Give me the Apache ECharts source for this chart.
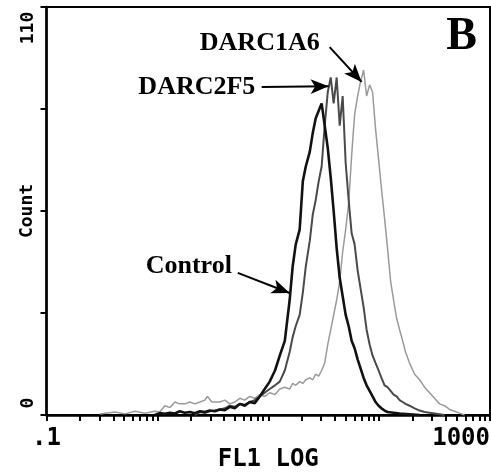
<!DOCTYPE html>
<html><head><meta charset="utf-8">
<script src="https://cdn.jsdelivr.net/npm/echarts@6/dist/echarts.min.js"></script>
<style>html,body{margin:0;padding:0;background:#fff}#c{width:491px;height:472px}</style>
</head><body><div id="c"></div>
<script>
// FL1 LOG channel value, count
const control = [[0.948,0],[1.05,0.5],[1.17,0.3],[1.30,0.6],[1.44,0.4],[1.59,1],[1.77,0.6],[1.96,0.8],[2.18,0.5],[2.42,1],[2.68,0.8],[2.97,1.2],[3.30,1],[3.66,1.5],[4.06,1.3],[4.50,2.2],[4.99,1.8],[5.54,3],[6.14,2.5],[6.81,3.5],[7.55,3.2],[8.38,5],[9.29,7],[10.3,9],[11.5,12],[12.7,16],[14.1,20],[15.6,31],[16.6,40],[17.7,46],[19.2,50],[20.5,63],[21.8,67],[23.7,71],[25.2,76],[26.8,80],[28.5,82],[30.3,84],[32.3,78],[34.4,72],[36.6,64],[38.9,55],[41.4,45],[44.1,37],[46.9,32],[49.9,27],[53.1,24],[56.5,20],[60.1,18],[64.0,15],[68.1,12.5],[72.5,10],[77.1,8],[82.1,6.5],[87.3,5],[92.9,3.5],[98.9,2.5],[105,1.8],[112,1.2],[119,0.8],[135,0.6],[153,0.4],[188,0.2],[232,0]];
const darc2f5 = [[2.18,0],[2.42,0.8],[2.68,0.5],[2.97,1],[3.30,1.2],[3.66,1.5],[4.06,1.8],[4.50,2.5],[4.99,2.2],[5.54,3],[6.14,2.8],[6.81,3.5],[7.55,4],[8.38,5],[9.29,6],[10.3,7],[11.5,8],[12.7,9],[14.1,12],[15.6,17],[16.6,21],[17.7,24],[19.2,27],[20.5,33],[21.8,40],[23.7,47],[25.2,54],[26.8,58],[28.5,63],[30.3,67],[32.3,78],[34.4,87],[36.6,91],[38.9,84],[41.4,91],[44.1,78],[46.9,86],[49.9,68],[53.1,58],[56.5,49],[60.1,46],[64.0,39],[68.1,34],[72.5,29],[77.1,23],[82.1,19],[87.3,16],[92.9,14],[98.9,12],[105,10],[112,8],[119,7.5],[127,6.5],[135,5.5],[144,5],[153,4],[163,3.5],[173,3],[188,2.5],[209,1.8],[232,1.2],[257,0.8],[285,0.6],[316,0.4],[351,0.2],[389,0]];
const darc1a6 = [[0.303,0.3],[0.414,0.8],[0.509,0.3],[0.627,1],[0.771,0.5],[0.948,1],[1.05,0.8],[1.17,2.5],[1.30,2],[1.44,3.5],[1.59,3],[1.77,3],[1.96,3.5],[2.18,3],[2.42,3.5],[2.68,4],[2.83,5],[3.10,3.5],[3.66,3.5],[4.06,4],[4.50,3],[4.99,3.5],[5.54,4.5],[6.14,4],[6.81,5],[7.55,4.5],[8.38,5.5],[9.29,5],[10.3,6],[11.5,5.5],[12.7,7],[14.1,7.5],[15.6,7],[16.6,8.5],[17.7,8],[19.2,9],[20.5,8.5],[21.8,9.5],[23.7,10],[25.2,9.5],[26.8,11],[28.5,10.5],[30.3,12],[32.3,14],[34.4,19],[36.6,23],[38.9,27],[41.4,31],[44.1,36],[46.9,44],[49.9,50],[53.1,57],[56.5,70],[60.1,81],[64.0,86],[68.1,90],[72.5,93],[77.1,86],[82.1,89],[87.3,87],[92.9,77],[98.9,69],[105,61],[112,53],[119,45],[127,36],[135,31],[144,26],[153,23],[163,20],[173,17],[188,14],[209,11],[232,9.5],[257,7.5],[285,6],[316,4.5],[351,3],[389,2.5],[432,1.5],[479,1],[531,0.5],[589,0]];

const xTicks = [0.1,0.2,0.3,0.4,0.5,0.6,0.7,0.8,0.9,1,2,3,4,5,6,7,8,9,10,20,30,40,50,60,70,80,90,100,200,300,400,500,600,700,800,900,1000];
const xLabels = [0.1, 1000];
const yLabels = [0, 110];

const monoFont = 'DejaVu Sans Mono';
const serif = 'Liberation Serif';

const annoText = { fontFamily: serif, fontWeight: 'bold', fontSize: 26, color: '#000' };

const chart = echarts.init(document.getElementById('c'), null, { renderer: 'canvas' });
chart.setOption({
  animation: false,
  backgroundColor: '#fff',
  grid: { left: 46.5, right: 1, top: 7, bottom: 57, show: true, borderColor: '#000', borderWidth: 2, containLabel: false, outerBoundsMode: 'none' },
  xAxis: {
    type: 'log', logBase: 10, min: 0.1, max: 1000,
    name: 'FL1 LOG', nameLocation: 'middle', nameGap: 33, nameMoveOverlap: false,
    nameTextStyle: { fontFamily: monoFont, fontWeight: 'bold', fontSize: 24, color: '#000' },
    axisLine: { show: true, lineStyle: { color: '#000', width: 2.5 } },
    axisTick: { show: true, inside: false, length: 6, customValues: xTicks, lineStyle: { color: '#000', width: 2 } },
    minorTick: { show: false },
    splitLine: { show: false },
    axisLabel: {
      customValues: xLabels, margin: 12,
      fontFamily: monoFont, fontWeight: 'bold', fontSize: 24, color: '#000',
      alignMaxLabel: 'right',
      formatter: v => (v < 1 ? '.1' : String(Math.round(v)))
    }
  },
  yAxis: {
    type: 'value', min: 0, max: 110, interval: 27.5,
    name: 'Count', nameLocation: 'middle', nameGap: 10, nameRotate: 90, nameMoveOverlap: false,
    nameTextStyle: { fontFamily: monoFont, fontWeight: 'bold', fontSize: 18, color: '#000' },
    axisLine: { show: true, lineStyle: { color: '#000', width: 2.5 } },
    axisTick: { show: true, inside: false, length: 6, lineStyle: { color: '#000', width: 2 } },
    splitLine: { show: false },
    axisLabel: {
      customValues: yLabels, rotate: 90, margin: 9,
      fontFamily: monoFont, fontWeight: 'bold', fontSize: 18, color: '#000',
      formatter: v => (v === 0 ? '{a|0}' : '{b|110}'),
      rich: {
        a: { fontFamily: monoFont, fontWeight: 'bold', fontSize: 18, padding: [0, 0, 0, 24] },
        b: { fontFamily: monoFont, fontWeight: 'bold', fontSize: 18, padding: [0, 42, 0, 0] }
      }
    }
  },
  series: [
    {
      name: 'DARC1A6', type: 'line', data: darc1a6, showSymbol: false, symbol: 'none',
      lineStyle: { color: '#9a9a9a', width: 1.5 }, z: 2
    },
    {
      name: 'DARC2F5', type: 'line', data: darc2f5, showSymbol: false, symbol: 'none',
      lineStyle: { color: '#4a4a4a', width: 2 }, z: 3
    },
    {
      name: 'Control', type: 'line', data: control, showSymbol: false, symbol: 'none',
      lineStyle: { color: '#111', width: 2.6 }, z: 4,
      markLine: {
        silent: true, symbol: ['none', 'arrow'], symbolSize: [11, 18],
        lineStyle: { color: '#000', width: 2, type: 'solid' },
        label: { show: false },
        data: [
          [{ coord: [8.73, 88.4] }, { coord: [35.0, 88.6] }],
          [{ coord: [35.8, 99.2] }, { coord: [69.5, 89.8] }],
          [{ coord: [5.31, 38.3] }, { coord: [15.6, 32.9] }]
        ]
      },
      markPoint: {
        silent: true, symbol: 'circle', symbolSize: 0,
        label: { show: true, position: 'inside', ...annoText },
        data: [
          { coord: [8.38, 100.3], label: { formatter: 'DARC1A6' } },
          { coord: [2.27, 88.4], label: { formatter: 'DARC2F5' } },
          { coord: [1.92, 40.2], label: { formatter: 'Control' } },
          { coord: [553, 101.9], label: { formatter: 'B', fontSize: 46 } }
        ]
      }
    }
  ]
});
</script>
</body></html>
